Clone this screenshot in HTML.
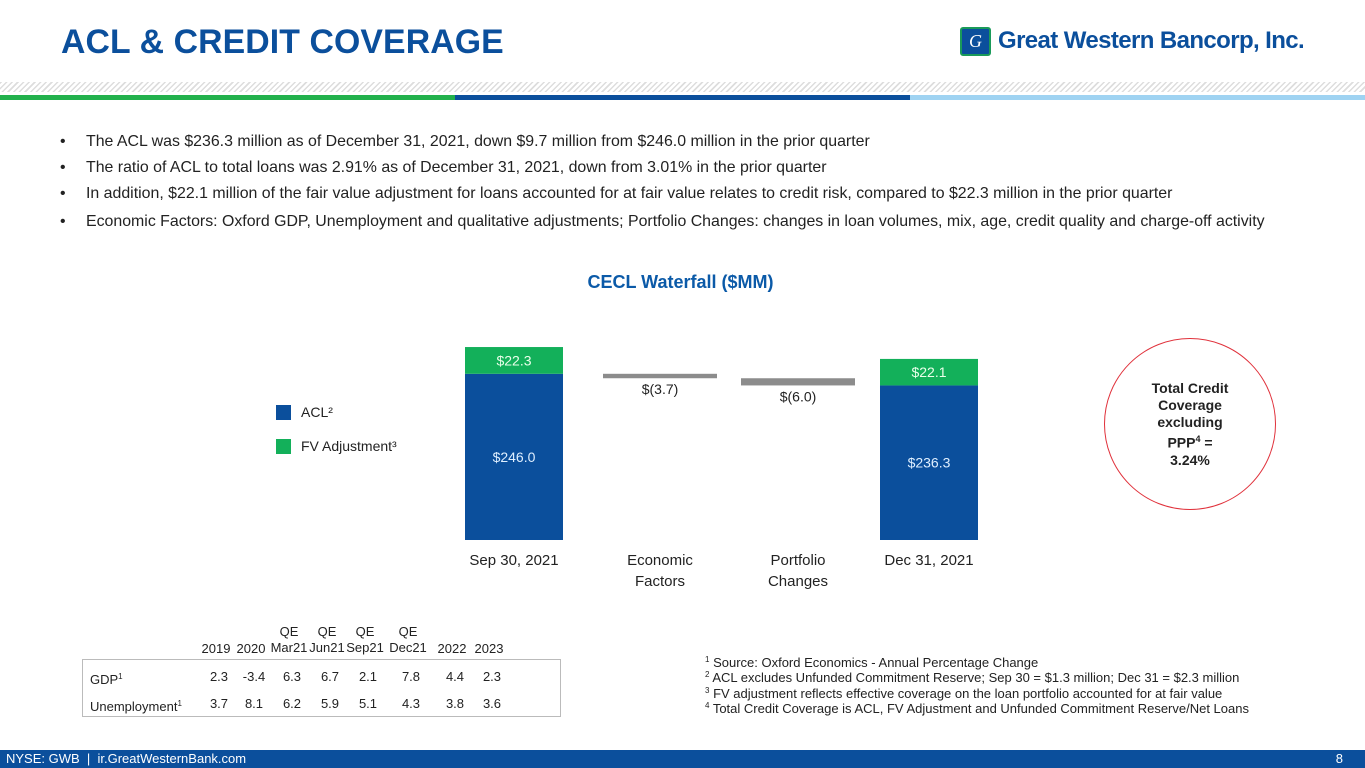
<!DOCTYPE html>
<html><head><meta charset="utf-8">
<style>
*{margin:0;padding:0;box-sizing:border-box}
body{width:1365px;height:768px;position:relative;background:#fff;font-family:"Liberation Sans",Arial,sans-serif;overflow:hidden;color:#222}
.abs{position:absolute}
.bul{position:absolute;left:86px;font-size:15.9px;color:#222;white-space:nowrap}
.bul span{position:absolute;left:-26px}
.fn{position:absolute;left:705px;font-size:13px;white-space:nowrap;color:#222}
.fn sup{font-size:8px;vertical-align:5px}
.th,.td{position:absolute;font-size:13px;text-align:center;width:50px;white-space:nowrap;line-height:16px}
</style></head><body>
<div class="abs" style="left:61px;top:23px;font-size:33.8px;font-weight:bold;color:#0b4f9c;letter-spacing:0.1px">ACL &amp; CREDIT COVERAGE</div>
<div class="abs" style="left:960px;top:26px;width:370px;height:34px">
 <div style="position:absolute;left:0;top:1px;width:31px;height:29px;background:#0b4f9c;border:2px solid #1a9a5a;border-radius:3px;color:#fff;font-style:italic;font-family:'Liberation Serif',serif;font-size:18px;text-align:center;line-height:25px">G</div>
 <div style="position:absolute;left:38px;top:1px;font-family:'Liberation Sans',sans-serif;font-weight:bold;font-size:24px;color:#0b4f9c;white-space:nowrap;letter-spacing:-0.6px">Great Western Bancorp, Inc.</div>
</div>
<div class="abs" style="left:0;top:82px;width:1365px;height:10px;background:repeating-linear-gradient(135deg,#ddd 0 1.5px,#fff 1.5px 4px)"></div>
<div class="abs" style="left:0;top:95px;width:455px;height:5px;background:#22b14c"></div>
<div class="abs" style="left:455px;top:95px;width:455px;height:5px;background:#0b4f9c"></div>
<div class="abs" style="left:910px;top:95px;width:455px;height:5px;background:#9fd3f2"></div>

<div class="bul" style="top:133px"><span>•</span>The ACL was $236.3 million as of December 31, 2021, down $9.7 million from $246.0 million in the prior quarter</div>
<div class="bul" style="top:159px"><span>•</span>The ratio of ACL to total loans was 2.91% as of December 31, 2021, down from 3.01% in the prior quarter</div>
<div class="bul" style="top:185px"><span>•</span>In addition, $22.1 million of the fair value adjustment for loans accounted for at fair value relates to credit risk, compared to $22.3 million in the prior quarter</div>
<div class="bul" style="top:213px"><span>•</span>Economic Factors: Oxford GDP, Unemployment and qualitative adjustments; Portfolio Changes: changes in loan volumes, mix, age, credit quality and charge-off activity</div>

<div class="abs" style="left:0;width:1365px;text-align:center;top:272px;font-size:18px;font-weight:bold;color:#0b5aa8;padding-right:4px">CECL Waterfall ($MM)</div>

<div class="abs" style="left:276px;top:404px;font-size:14px;color:#222"><span style="display:inline-block;width:15px;height:15px;background:#0b4f9c;vertical-align:-3px;margin-right:10px"></span>ACL²</div>
<div class="abs" style="left:276px;top:438px;font-size:14px;color:#222"><span style="display:inline-block;width:15px;height:15px;background:#13b05a;vertical-align:-3px;margin-right:10px"></span>FV Adjustment³</div>

<svg class="abs" id="chart" style="left:0;top:0" width="1365" height="600"></svg>

<div class="abs" style="left:1104px;top:338px;width:172px;height:172px;border:1.5px solid #e0303a;border-radius:50%;"></div>
<div class="abs" style="left:1104px;top:380px;width:172px;text-align:center;font-size:14px;font-weight:bold;line-height:17px;color:#222">Total Credit<br>Coverage<br>excluding<br>PPP<sup style="font-size:9px">4</sup> =<br>3.24%</div>

<div id="tbl"></div>
<div class="abs" style="left:82px;top:659px;width:479px;height:58px;border:1px solid #bbb"></div>

<div class="fn" style="top:655px"><sup>1</sup> Source: Oxford Economics - Annual Percentage Change</div>
<div class="fn" style="top:670px"><sup>2</sup> ACL excludes Unfunded Commitment Reserve; Sep 30 = $1.3 million; Dec 31 = $2.3 million</div>
<div class="fn" style="top:686px"><sup>3</sup> FV adjustment reflects effective coverage on the loan portfolio accounted for at fair value</div>
<div class="fn" style="top:701px"><sup>4</sup> Total Credit Coverage is ACL, FV Adjustment and Unfunded Commitment Reserve/Net Loans</div>

<div class="abs" style="left:0;top:750px;width:1365px;height:18px;background:#0b4f9c;color:#fff;font-size:13px;line-height:18px">
 <span style="position:absolute;left:6px">NYSE: GWB &nbsp;|&nbsp; ir.GreatWesternBank.com</span>
 <span style="position:absolute;right:22px">8</span>
</div>

<script>
const categories = ["Sep 30, 2021","Economic\nFactors","Portfolio\nChanges","Dec 31, 2021"];
const aclValues = [246.0, null, null, 236.3];
const fvValues = [22.3, null, null, 22.1];
const changeValues = [null, -3.7, -6.0, null];
const changeLabels = ["", "$(3.7)", "$(6.0)", ""];

const yMin = 107.5, pxPerUnit = 1.2, baseY = 540;
function yScale(v){ return baseY - (v - yMin) * pxPerUnit; }
const barCenters = [514, 660, 798, 929];
const barW = [98, 114, 114, 98];
function xLeft(i){ return barCenters[i] - barW[i]/2; }

const svg = document.getElementById('chart');
const NS = 'http://www.w3.org/2000/svg';
function mk(tag, attrs){ const e=document.createElementNS(NS,tag); for(const k in attrs) e.setAttribute(k,attrs[k]); svg.appendChild(e); return e; }
function txt(x,y,s,fill,name,fs){ const t=mk('text',{x:x,y:y,'text-anchor':'middle','font-size':fs||14,fill:fill,'font-family':'Liberation Sans, Arial, sans-serif'}); t.textContent=s;
 
 
 return t; }

let running = aclValues[0];
categories.forEach((c,i)=>{
  if(aclValues[i]!=null){
    const a = aclValues[i], f = fvValues[i];
    const r1 = mk('rect',{x:xLeft(i),y:yScale(a),width:barW[i],height:baseY-yScale(a),fill:'#0b4f9c'});
    
    
    const r2 = mk('rect',{x:xLeft(i),y:yScale(a+f),width:barW[i],height:yScale(a)-yScale(a+f),fill:'#13b05a'});
    
    
    txt(barCenters[i], (yScale(a)+baseY)/2+5, '$'+a.toFixed(1), '#dfefff', 'acl-value-label');
    txt(barCenters[i], (yScale(a)+yScale(a+f))/2+5, '$'+f.toFixed(1), '#eaffea', 'fv-value-label');
  } else {
    const d = changeValues[i];
    const top = yScale(running), bot = yScale(running + d);
    const r = mk('rect',{x:xLeft(i),y:top,width:barW[i],height:Math.max(3,bot-top),fill:'#8c8c8c'});
    
    
    txt(barCenters[i], Math.max(bot,top+3)+16, changeLabels[i], '#222', 'change-value-label');
    running += d;
  }
  c.split('\n').forEach((ln,j)=> txt(barCenters[i], 565+j*21, ln, '#222', 'category-label', 15));
});

const colHeads = ["2019","2020","QE\nMar21","QE\nJun21","QE\nSep21","QE\nDec21","2022","2023"];
const rowNames = ["GDP","Unemployment"];
const gdpValues = [2.3,-3.4,6.3,6.7,2.1,7.8,4.4,2.3];
const unempValues = [3.7,8.1,6.2,5.9,5.1,4.3,3.8,3.6];
const colX = [216,251,289,327,365,408,452,489];
const tbl = document.getElementById('tbl');
function div(cls, l, t, html, name){ const d=document.createElement('div'); d.className=cls; d.style.left=l+'px'; d.style.top=t+'px'; d.innerHTML=html;
 
 
 tbl.appendChild(d); return d; }
colHeads.forEach((h,i)=>{ const p=h.split('\n'); div('th', colX[i]-25, p.length>1?624:641, p.join('<br>'), 'column-header'); });
[gdpValues, unempValues].forEach((arr,r)=>{
  const ty = r===0?669:696;
  const lbl = div('td', 90, ty, rowNames[r]+'<sup style="font-size:8px;vertical-align:5px">1</sup>', 'row-label');
  lbl.style.textAlign='left'; lbl.style.width='120px';
  arr.forEach((v,i)=> div('td', colX[i]-25+3, ty, v.toFixed(1), 'table-value'));
});
</script>
</body></html>
